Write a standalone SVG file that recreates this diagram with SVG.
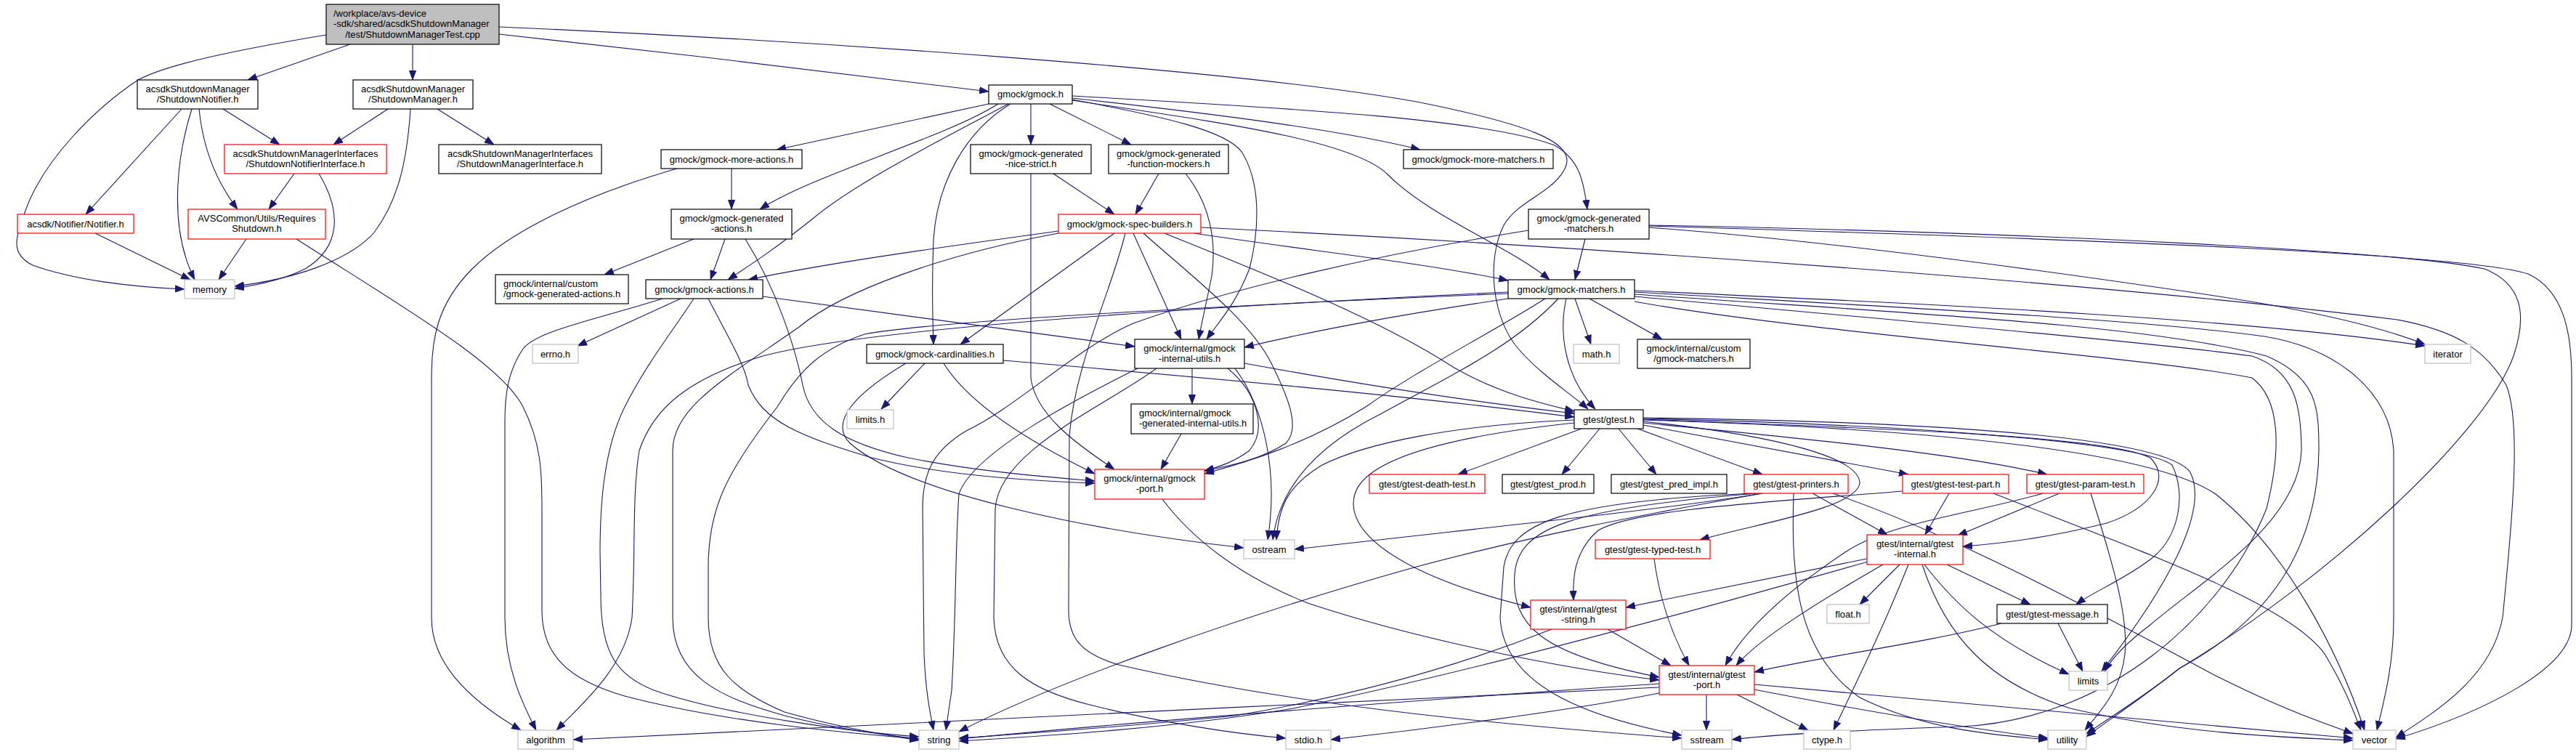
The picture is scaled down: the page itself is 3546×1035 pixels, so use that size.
<svg xmlns="http://www.w3.org/2000/svg" width="3546" height="1035" viewBox="0 0 3546 1035">
<style>
.n rect{fill:#fff;stroke:#000;stroke-width:1.2}
.r rect{stroke:#ff0000}
.x rect{stroke:#bfbfbf}
.root rect{fill:#bfbfbf}
text{font-family:"Liberation Sans",Arial,Helvetica,sans-serif;font-size:13px;fill:#000;text-anchor:middle}
text.L{text-anchor:start}
#edges path{fill:none;stroke:#191970;stroke-width:1.1;marker-end:url(#a)}
</style>
<defs>
<marker id="a" markerWidth="13" markerHeight="10" refX="13" refY="5" orient="auto" markerUnits="userSpaceOnUse"><path d="M0.5,0.5 L12.5,5 L0.5,9.5 z" fill="#191970" stroke="#191970" stroke-width="1"/></marker>
</defs>
<rect width="3546" height="1035" fill="#fff"/>
<g id="edges">
<path d="M449,48 C 330,68 230,88 190,110 C 130,150 60,220 35,290 C 20,330 15,350 45,365 C 100,385 180,395 254,398"/>
<path d="M482,61 L341,110"/>
<path d="M568,61 L568,110"/>
<path d="M687,47 C 900,70 1200,105 1361,126"/>
<path d="M687,37 C 1100,55 1700,95 1950,140 C 2100,170 2170,195 2155,230 C 2140,265 2090,275 2070,310 C 2045,360 2055,440 2090,480 C 2120,515 2160,540 2186,563"/>
<path d="M307,150 L385,199"/>
<path d="M274,150 C 278,190 290,240 327,288"/>
<path d="M264,150 C 245,210 230,310 268,385"/>
<path d="M250,150 L118,295"/>
<path d="M534,150 L459,199"/>
<path d="M602,150 L680,199"/>
<path d="M565,150 C 560,230 545,280 515,320 C 480,360 400,385 323,394"/>
<path d="M405,239 L370,288"/>
<path d="M439,239 C 470,290 470,340 420,370 C 390,385 350,393 323,397"/>
<path d="M131,321 L262,385"/>
<path d="M339,329 L301,385"/>
<path d="M408,329 C 550,420 690,500 720,560 C 745,610 746,650 746,700 L746,840 C 746,900 780,935 860,958 C 1000,995 1180,1010 1265,1017"/>
<path d="M1361,143 L1069,206"/>
<path d="M1374,143 C 1300,190 1120,240 1046,288"/>
<path d="M1388,143 C 1300,190 1180,250 1120,300 C 1070,340 1040,360 1002,385"/>
<path d="M1391,143 C 1330,180 1290,250 1285,330 C 1282,400 1284,440 1285,474"/>
<path d="M1419,143 L1419,199"/>
<path d="M1445,143 L1557,199"/>
<path d="M1476,137 C 1600,160 1690,180 1710,210 C 1740,260 1730,330 1720,370 C 1700,420 1680,440 1661,467"/>
<path d="M1476,135 C 1700,160 1850,180 1955,206"/>
<path d="M1476,132 C 1800,150 2050,165 2140,200 C 2175,220 2180,250 2185,288"/>
<path d="M1476,138 C 1650,165 1860,190 1910,240 C 1970,300 2080,340 2133,385"/>
<path d="M1007,232 L1007,288"/>
<path d="M932,232 C 800,270 700,320 650,370 C 600,420 594,470 594,520 L594,850 C 594,910 640,960 717,1005"/>
<path d="M998,329 L978,385"/>
<path d="M955,329 L832,378"/>
<path d="M1026,329 C 1070,400 1095,480 1105,530 C 1115,580 1160,610 1250,630 C 1350,650 1450,657 1507,662"/>
<path d="M937,411 L795,476"/>
<path d="M912,411 C 820,440 740,455 720,480 C 700,510 695,540 695,580 L695,850 C 695,920 720,970 738,1005"/>
<path d="M955,411 C 930,450 890,500 860,560 C 830,620 826,700 826,760 L827,820 C 827,900 850,930 900,950 C 1000,985 1180,1008 1265,1014"/>
<path d="M1050,408 L1562,477"/>
<path d="M975,411 C 1000,460 1025,500 1030,530 C 1050,580 1100,600 1200,630 C 1300,655 1420,662 1507,665"/>
<path d="M1450,239 L1534,295"/>
<path d="M1419,239 L1419,520 C 1425,570 1480,610 1534,646"/>
<path d="M1595,239 L1563,295"/>
<path d="M1632,239 C 1665,280 1675,330 1668,380 C 1660,420 1655,440 1650,467"/>
<path d="M1457,318 C 1300,340 1150,360 1030,385"/>
<path d="M1457,321 C 1300,350 1160,400 1100,450 C 1000,520 926,560 926,620 L926,850 C 926,930 990,960 1080,985 C 1150,1003 1220,1012 1265,1017"/>
<path d="M1534,321 L1322,474"/>
<path d="M1549,321 C 1530,400 1480,500 1472,600 L1471,840 C 1471,880 1490,900 1540,915 C 1800,975 2100,1000 2315,1016"/>
<path d="M1560,321 L1626,467"/>
<path d="M1574,321 C 1640,380 1720,440 1750,500 C 1775,550 1790,590 1770,610 C 1740,630 1700,640 1658,648"/>
<path d="M1644,321 C 1800,345 1950,360 2076,386"/>
<path d="M1603,321 C 1750,380 1900,440 2000,505 C 2060,540 2120,555 2167,566"/>
<path d="M1653,313 C 2200,340 2900,390 3300,440 C 3380,455 3420,480 3450,530 C 3470,580 3460,700 3445,850 C 3430,930 3360,975 3298,1015"/>
<path d="M2182,329 L2168,385"/>
<path d="M2104,317 C 1900,350 1700,395 1560,445 C 1480,480 1400,560 1330,593 C 1285,620 1270,650 1270,700 L1272,900 C 1274,950 1280,980 1285,1005"/>
<path d="M2270,313 C 2500,330 2800,370 3048,407 C 3200,430 3290,455 3338,474"/>
<path d="M2270,310 C 2800,320 3300,345 3420,370 C 3470,390 3480,430 3460,490 C 3420,600 3200,800 3000,920 C 2950,960 2900,990 2872,1010"/>
<path d="M2270,311 C 2900,330 3400,350 3480,377 C 3530,400 3540,460 3540,520 L3540,860 C 3540,920 3420,980 3298,1017"/>
<path d="M2250,400 C 2700,420 3100,440 3338,476"/>
<path d="M2250,402 C 2650,425 2950,440 3117,463 C 3220,480 3290,540 3295,620 L3295,850 C 3295,920 3280,970 3272,1005"/>
<path d="M2250,405 C 2600,430 2950,445 3120,490 C 3190,520 3192,560 3192,620 C 3190,750 3130,850 3000,920 C 2950,960 2890,1000 2872,1014"/>
<path d="M2250,408 C 2600,440 2950,470 3100,490 C 3160,510 3168,560 3168,620 C 3165,720 3030,800 2960,860 C 2920,890 2905,910 2897,924"/>
<path d="M2250,415 C 2500,460 2950,490 3100,520 C 3140,550 3140,620 3120,700 C 3060,850 2900,990 2700,1000 C 2550,1005 2450,1010 2384,1018"/>
<path d="M2076,402 C 1700,420 1200,450 1050,490 C 950,520 900,560 880,620 C 870,680 875,760 870,850 C 860,920 800,970 766,1005"/>
<path d="M2076,404 C 1700,420 1300,440 1190,460 C 1130,480 1100,510 1070,560 C 1000,650 975,700 975,780 L975,850 C 975,920 1010,950 1080,980 C 1150,1000 1220,1012 1265,1019"/>
<path d="M2076,411 C 1950,430 1830,450 1713,478"/>
<path d="M2127,411 C 2050,460 1950,510 1880,560 C 1800,610 1720,635 1658,652"/>
<path d="M2145,411 C 2080,480 1990,520 1900,570 C 1800,620 1760,680 1752,743"/>
<path d="M2168,411 L2190,474"/>
<path d="M2188,411 L2288,467"/>
<path d="M2156,411 C 2145,460 2155,520 2196,563"/>
<path d="M1641,507 L1641,556"/>
<path d="M1690,507 C 1730,540 1745,590 1720,620 C 1700,635 1680,642 1658,648"/>
<path d="M1713,500 C 1850,525 2000,550 2167,569"/>
<path d="M1700,507 C 1740,560 1760,650 1745,743"/>
<path d="M1566,507 C 1500,540 1340,620 1320,680 C 1315,750 1316,850 1310,950 L1302,1005"/>
<path d="M1592,507 C 1520,560 1375,620 1370,700 L1368,850 C 1370,920 1420,950 1500,970 C 1600,995 1700,1010 1770,1016"/>
<path d="M1626,597 L1598,646"/>
<path d="M1600,687 C 1640,740 1700,790 1800,830 C 1950,880 2150,920 2284,936"/>
<path d="M1273,500 L1213,563"/>
<path d="M1299,500 C 1330,550 1400,600 1507,652"/>
<path d="M1247,500 C 1180,540 1140,580 1170,610 C 1250,680 1500,730 1712,754"/>
<path d="M1381,496 C 1600,515 1900,540 2167,574"/>
<path d="M2177,590 L2007,653"/>
<path d="M2202,590 L2150,653"/>
<path d="M2228,590 L2280,653"/>
<path d="M2254,590 L2426,653"/>
<path d="M2262,585 L2627,653"/>
<path d="M2262,582 C 2500,605 2700,625 2818,653"/>
<path d="M2262,580 C 2450,600 2560,630 2560,665 C 2555,700 2420,720 2340,743"/>
<path d="M2167,582 C 2000,600 1880,630 1865,680 C 1850,730 1920,790 2107,836"/>
<path d="M2167,578 C 2000,585 1880,610 1820,640 C 1770,670 1760,700 1757,743"/>
<path d="M2262,577 C 2600,590 2900,600 2960,630 C 2990,660 2960,700 2900,720 C 2820,740 2760,748 2702,752"/>
<path d="M2262,576 C 2650,585 2950,610 2990,640 C 3010,680 3000,740 2960,770 C 2920,800 2880,815 2858,832"/>
<path d="M2262,575 C 2650,580 2980,600 3015,650 C 3040,700 2990,800 2893,924"/>
<path d="M2262,578 C 2650,590 2960,620 3050,680 C 3150,760 3220,900 3255,1005"/>
<path d="M2426,679 C 2300,700 2100,720 1782,756"/>
<path d="M2426,679 C 2250,710 2100,740 1950,780 C 1700,850 1450,940 1320,1007"/>
<path d="M2415,679 C 2150,690 2080,720 2070,780 L2065,850 C 2070,950 2200,990 2315,1012"/>
<path d="M2469,679 C 2465,800 2475,900 2560,960 C 2650,1005 2750,1012 2819,1018"/>
<path d="M2495,679 L2598,736"/>
<path d="M2523,679 C 2700,740 2900,850 3050,930 C 3150,980 3200,995 3239,1010"/>
<path d="M2420,679 C 2150,700 2090,730 2085,790 C 2080,860 2120,900 2284,932"/>
<path d="M2683,679 L2650,736"/>
<path d="M2744,679 C 2950,760 3150,830 3200,900 C 3230,950 3240,980 3250,1005"/>
<path d="M2619,676 C 2450,690 2250,700 2200,730 C 2165,760 2165,800 2166,826"/>
<path d="M2835,679 L2695,737"/>
<path d="M2878,679 C 2910,780 2930,850 2925,900 C 2920,950 2890,980 2870,1005"/>
<path d="M2813,679 C 2700,710 2600,720 2540,760 C 2450,820 2400,870 2375,916"/>
<path d="M2592,777 C 2500,830 2420,880 2390,916"/>
<path d="M2570,769 L2238,836"/>
<path d="M2680,777 L2795,832"/>
<path d="M2615,777 L2560,832"/>
<path d="M2627,777 C 2590,870 2550,950 2524,1005"/>
<path d="M2649,777 C 2690,830 2740,880 2848,928"/>
<path d="M2575,772 C 2300,850 2000,930 1780,975 C 1600,1005 1400,1015 1320,1020"/>
<path d="M2646,777 C 2680,880 2740,940 2850,975 C 3000,1010 3150,1015 3239,1019"/>
<path d="M2213,866 L2300,916"/>
<path d="M2136,866 C 2000,920 1850,960 1700,985 C 1500,1005 1400,1010 1320,1016"/>
<path d="M2277,769 C 2285,830 2305,880 2325,916"/>
<path d="M2833,858 L2867,924"/>
<path d="M2755,858 C 2650,885 2500,905 2415,925"/>
<path d="M2349,956 L2349,1005"/>
<path d="M2391,956 L2489,1005"/>
<path d="M2415,949 C 2600,985 2730,1005 2819,1016"/>
<path d="M2415,942 C 2800,975 3100,1005 3239,1016"/>
<path d="M2284,954 C 2150,980 1950,1005 1832,1018"/>
<path d="M2284,941 C 2000,960 1600,990 1320,1017"/>
<path d="M2284,946 C 1800,970 1200,995 789,1018"/>
</g>
<g id="n-root" class="n root"><rect x="449" y="6" width="238" height="55"/><text class="L" x="459" y="22.5">/workplace/avs-device</text><text class="L" x="459" y="37">-sdk/shared/acsdkShutdownManager</text><text x="568" y="51.5">/test/ShutdownManagerTest.cpp</text></g>
<g id="n-sn" class="n"><rect x="189" y="110" width="166" height="40"/><text x="272" y="126.5">acsdkShutdownManager</text><text x="272" y="141">/ShutdownNotifier.h</text></g>
<g id="n-sm" class="n"><rect x="486" y="110" width="165" height="40"/><text x="568.5" y="126.5">acsdkShutdownManager</text><text x="568.5" y="141">/ShutdownManager.h</text></g>
<g id="n-sni" class="n r"><rect x="309" y="199" width="223" height="40"/><text x="420.5" y="215.5">acsdkShutdownManagerInterfaces</text><text x="420.5" y="230">/ShutdownNotifierInterface.h</text></g>
<g id="n-smi" class="n"><rect x="604" y="199" width="224" height="40"/><text x="716" y="215.5">acsdkShutdownManagerInterfaces</text><text x="716" y="230">/ShutdownManagerInterface.h</text></g>
<g id="n-notifier" class="n r"><rect x="24" y="295" width="160" height="26"/><text x="104" y="312.5">acsdk/Notifier/Notifier.h</text></g>
<g id="n-rs" class="n r"><rect x="259" y="288" width="189" height="41"/><text x="353.5" y="304.5">AVSCommon/Utils/Requires</text><text x="353.5" y="319">Shutdown.h</text></g>
<g id="n-memory" class="n x"><rect x="254" y="385" width="69" height="26"/><text x="288.5" y="402.5">memory</text></g>
<g id="n-cga" class="n"><rect x="682" y="378" width="183" height="40"/><text class="L" x="693" y="394.5">gmock/internal/custom</text><text class="L" x="693" y="409">/gmock-generated-actions.h</text></g>
<g id="n-errno" class="n x"><rect x="733" y="474" width="63" height="26"/><text x="764.5" y="491.5">errno.h</text></g>
<g id="n-gmock" class="n"><rect x="1361" y="117" width="115" height="26"/><text x="1418.5" y="134">gmock/gmock.h</text></g>
<g id="n-gma" class="n"><rect x="910" y="206" width="194" height="26"/><text x="1007" y="223.5">gmock/gmock-more-actions.h</text></g>
<g id="n-gga" class="n"><rect x="924" y="288" width="166" height="41"/><text x="1007" y="304.5">gmock/gmock-generated</text><text x="1007" y="319">-actions.h</text></g>
<g id="n-ga" class="n"><rect x="889" y="385" width="161" height="26"/><text x="969.5" y="402.5">gmock/gmock-actions.h</text></g>
<g id="n-gns" class="n"><rect x="1336" y="199" width="166" height="40"/><text x="1419" y="215.5">gmock/gmock-generated</text><text x="1419" y="230">-nice-strict.h</text></g>
<g id="n-gfm" class="n"><rect x="1526" y="199" width="165" height="40"/><text x="1608.5" y="215.5">gmock/gmock-generated</text><text x="1608.5" y="230">-function-mockers.h</text></g>
<g id="n-gsb" class="n r"><rect x="1457" y="295" width="196" height="26"/><text x="1555" y="312.5">gmock/gmock-spec-builders.h</text></g>
<g id="n-gc" class="n"><rect x="1193" y="474" width="188" height="26"/><text x="1287" y="491.5">gmock/gmock-cardinalities.h</text></g>
<g id="n-giu" class="n"><rect x="1562" y="467" width="151" height="40"/><text x="1637.5" y="483.5">gmock/internal/gmock</text><text x="1637.5" y="498">-internal-utils.h</text></g>
<g id="n-gmm" class="n"><rect x="1932" y="206" width="206" height="26"/><text x="2035" y="223.5">gmock/gmock-more-matchers.h</text></g>
<g id="n-ggm" class="n"><rect x="2104" y="288" width="166" height="41"/><text x="2187" y="304.5">gmock/gmock-generated</text><text x="2187" y="319">-matchers.h</text></g>
<g id="n-gm" class="n"><rect x="2076" y="385" width="174" height="26"/><text x="2163" y="402.5">gmock/gmock-matchers.h</text></g>
<g id="n-math" class="n x"><rect x="2166" y="474" width="63" height="26"/><text x="2197.5" y="491.5">math.h</text></g>
<g id="n-cgm" class="n"><rect x="2254" y="467" width="155" height="40"/><text x="2331.5" y="483.5">gmock/internal/custom</text><text x="2331.5" y="498">/gmock-matchers.h</text></g>
<g id="n-iterator" class="n x"><rect x="3338" y="474" width="63" height="26"/><text x="3369.5" y="491.5">iterator</text></g>
<g id="n-algorithm" class="n x"><rect x="713" y="1005" width="76" height="26"/><text x="751" y="1022.5">algorithm</text></g>
<g id="n-limitsh" class="n x"><rect x="1166" y="564" width="64" height="26"/><text x="1198" y="581.5">limits.h</text></g>
<g id="n-ggiu" class="n"><rect x="1557" y="556" width="168" height="41"/><text class="L" x="1568" y="572.5">gmock/internal/gmock</text><text class="L" x="1568" y="587">-generated-internal-utils.h</text></g>
<g id="n-gport" class="n r"><rect x="1507" y="646" width="151" height="41"/><text x="1582.5" y="662.5">gmock/internal/gmock</text><text x="1582.5" y="677">-port.h</text></g>
<g id="n-ostream" class="n x"><rect x="1712" y="743" width="70" height="26"/><text x="1747" y="760.5">ostream</text></g>
<g id="n-string" class="n x"><rect x="1265" y="1005" width="55" height="26"/><text x="1292.5" y="1022.5">string</text></g>
<g id="n-stdio" class="n x"><rect x="1770" y="1005" width="62" height="26"/><text x="1801" y="1022.5">stdio.h</text></g>
<g id="n-gtest" class="n"><rect x="2167" y="564" width="95" height="26"/><text x="2214.5" y="581.5">gtest/gtest.h</text></g>
<g id="n-gdt" class="n r"><rect x="1885" y="653" width="159" height="26"/><text x="1964.5" y="670.5">gtest/gtest-death-test.h</text></g>
<g id="n-gprod" class="n"><rect x="2068" y="653" width="126" height="26"/><text x="2131" y="670.5">gtest/gtest_prod.h</text></g>
<g id="n-gpred" class="n"><rect x="2218" y="653" width="159" height="26"/><text x="2297.5" y="670.5">gtest/gtest_pred_impl.h</text></g>
<g id="n-gprinters" class="n r"><rect x="2401" y="653" width="143" height="26"/><text x="2472.5" y="670.5">gtest/gtest-printers.h</text></g>
<g id="n-gtestpart" class="n r"><rect x="2619" y="653" width="146" height="26"/><text x="2692" y="670.5">gtest/gtest-test-part.h</text></g>
<g id="n-gparam" class="n r"><rect x="2790" y="653" width="161" height="26"/><text x="2870.5" y="670.5">gtest/gtest-param-test.h</text></g>
<g id="n-gtypedtest" class="n r"><rect x="2196" y="743" width="158" height="26"/><text x="2275" y="760.5">gtest/gtest-typed-test.h</text></g>
<g id="n-ginternal" class="n r"><rect x="2570" y="736" width="132" height="41"/><text x="2636" y="752.5">gtest/internal/gtest</text><text x="2636" y="767">-internal.h</text></g>
<g id="n-gstring" class="n r"><rect x="2107" y="826" width="131" height="40"/><text x="2172.5" y="842.5">gtest/internal/gtest</text><text x="2172.5" y="857">-string.h</text></g>
<g id="n-float" class="n x"><rect x="2515" y="832" width="58" height="26"/><text x="2544" y="849.5">float.h</text></g>
<g id="n-gmessage" class="n"><rect x="2749" y="832" width="152" height="26"/><text x="2825" y="849.5">gtest/gtest-message.h</text></g>
<g id="n-gtport" class="n r"><rect x="2284" y="916" width="131" height="40"/><text x="2349.5" y="932.5">gtest/internal/gtest</text><text x="2349.5" y="947">-port.h</text></g>
<g id="n-limits" class="n x"><rect x="2848" y="924" width="53" height="26"/><text x="2874.5" y="941.5">limits</text></g>
<g id="n-sstream" class="n x"><rect x="2315" y="1005" width="69" height="26"/><text x="2349.5" y="1022.5">sstream</text></g>
<g id="n-ctype" class="n x"><rect x="2483" y="1005" width="64" height="26"/><text x="2515" y="1022.5">ctype.h</text></g>
<g id="n-utility" class="n x"><rect x="2819" y="1005" width="53" height="26"/><text x="2845.5" y="1022.5">utility</text></g>
<g id="n-vector" class="n x"><rect x="3239" y="1005" width="59" height="26"/><text x="3268.5" y="1022.5">vector</text></g>
</svg>
